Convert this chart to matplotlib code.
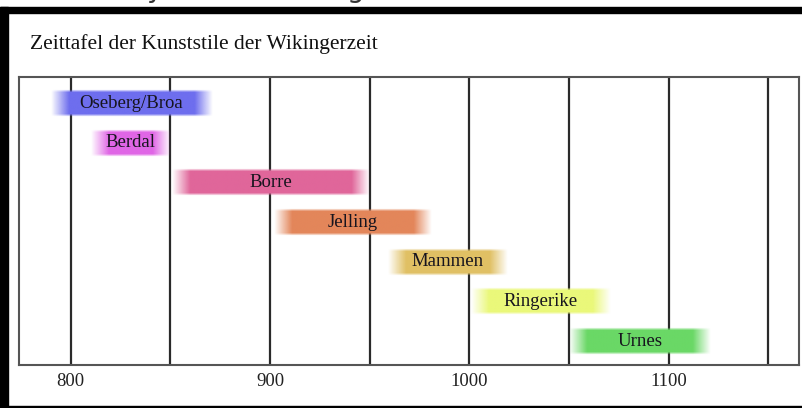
import numpy as np
import matplotlib
matplotlib.use("Agg")
from matplotlib import pyplot as plt
from matplotlib.colors import to_rgb
from matplotlib.patches import Rectangle

W, H = 803, 408

# art styles of the viking age, visible span in years
styles = ["Oseberg/Broa", "Berdal", "Borre", "Jelling", "Mammen", "Ringerike", "Urnes"]
start = [790, 810, 851, 902, 959, 1001, 1050]
end = [871, 850, 950, 981, 1019, 1071, 1121]
colors = ["#6e6eee", "#e066e6", "#e0669a", "#e3865a", "#e0c064", "#eaf87a", "#6ad866"]
tick_years = [800, 900, 1000, 1100]
grid_years = [800, 850, 900, 950, 1000, 1050, 1100, 1150]
title = "Zeittafel der Kunststile der Wikingerzeit"

serif = "Liberation Serif"
fade = 9       # soft edge, years
bar_h = 0.7    # in row units


def px(x0, y0, x1, y1):
    # pixel box (top-left origin) -> figure rect
    return [x0 / W, 1 - y1 / H, (x1 - x0) / W, (y1 - y0) / H]


fig = plt.figure(figsize=(W / 100, H / 100), dpi=100)

# screenshot frame
for box in [(0, 7, 8, 408), (0, 7, 803, 12.5), (0, 405.5, 803, 408)]:
    l, b, w, h = px(*box)
    fig.patches.append(Rectangle((l, b), w, h, transform=fig.transFigure,
                                 color="black", zorder=0))

# cut-off text at the very top
fig.text(146 / W, 1 + 3 / H, "y", fontsize=20, family="DejaVu Sans", color="#333333")
fig.text(347 / W, 1 + 3 / H, "g", fontsize=20, family="DejaVu Sans", color="#333333")

fig.text(30 / W, 1 - 44 / H, title, fontsize=15.5, family=serif,
         va="center", ha="left", color="#111111")

ax = fig.add_axes(px(19, 77, 799, 365))

for g in grid_years:
    ax.axvline(g, color="#2a2a2a", lw=1.6, zorder=1)

for i, (name, s, e, c) in enumerate(zip(styles, start, end, colors)):
    n, m = 300, 30
    xs = np.linspace(s, e, n)
    a = np.clip(np.minimum(xs - s, e - xs) / fade, 0, 1)
    ys = np.linspace(0, 1, m)
    av = np.clip(np.minimum(ys, 1 - ys) / 0.1, 0, 1)
    img = np.zeros((m, n, 4))
    img[..., :3] = to_rgb(c)
    img[..., 3] = av[:, None] * a[None, :]
    ax.imshow(img, extent=(s, e, i + bar_h / 2, i - bar_h / 2), aspect="auto",
              interpolation="bilinear", zorder=3)
    ax.text((s + e) / 2, i, name, ha="center", va="center", fontsize=13.5,
            family=serif, color="#16141e", zorder=4)

ax.set_xlim(774, 1165.5)
ax.set_ylim(6.6, -0.66)
ax.set_yticks([])
ax.set_xticks(tick_years)
ax.set_xticklabels([str(t) for t in tick_years], family=serif)
ax.tick_params(axis="x", length=0, pad=6, labelsize=13.5, labelcolor="#222222")
for sp in ax.spines.values():
    sp.set_color("#555555")
    sp.set_linewidth(1.5)

fig.savefig("out.png", dpi=100)
